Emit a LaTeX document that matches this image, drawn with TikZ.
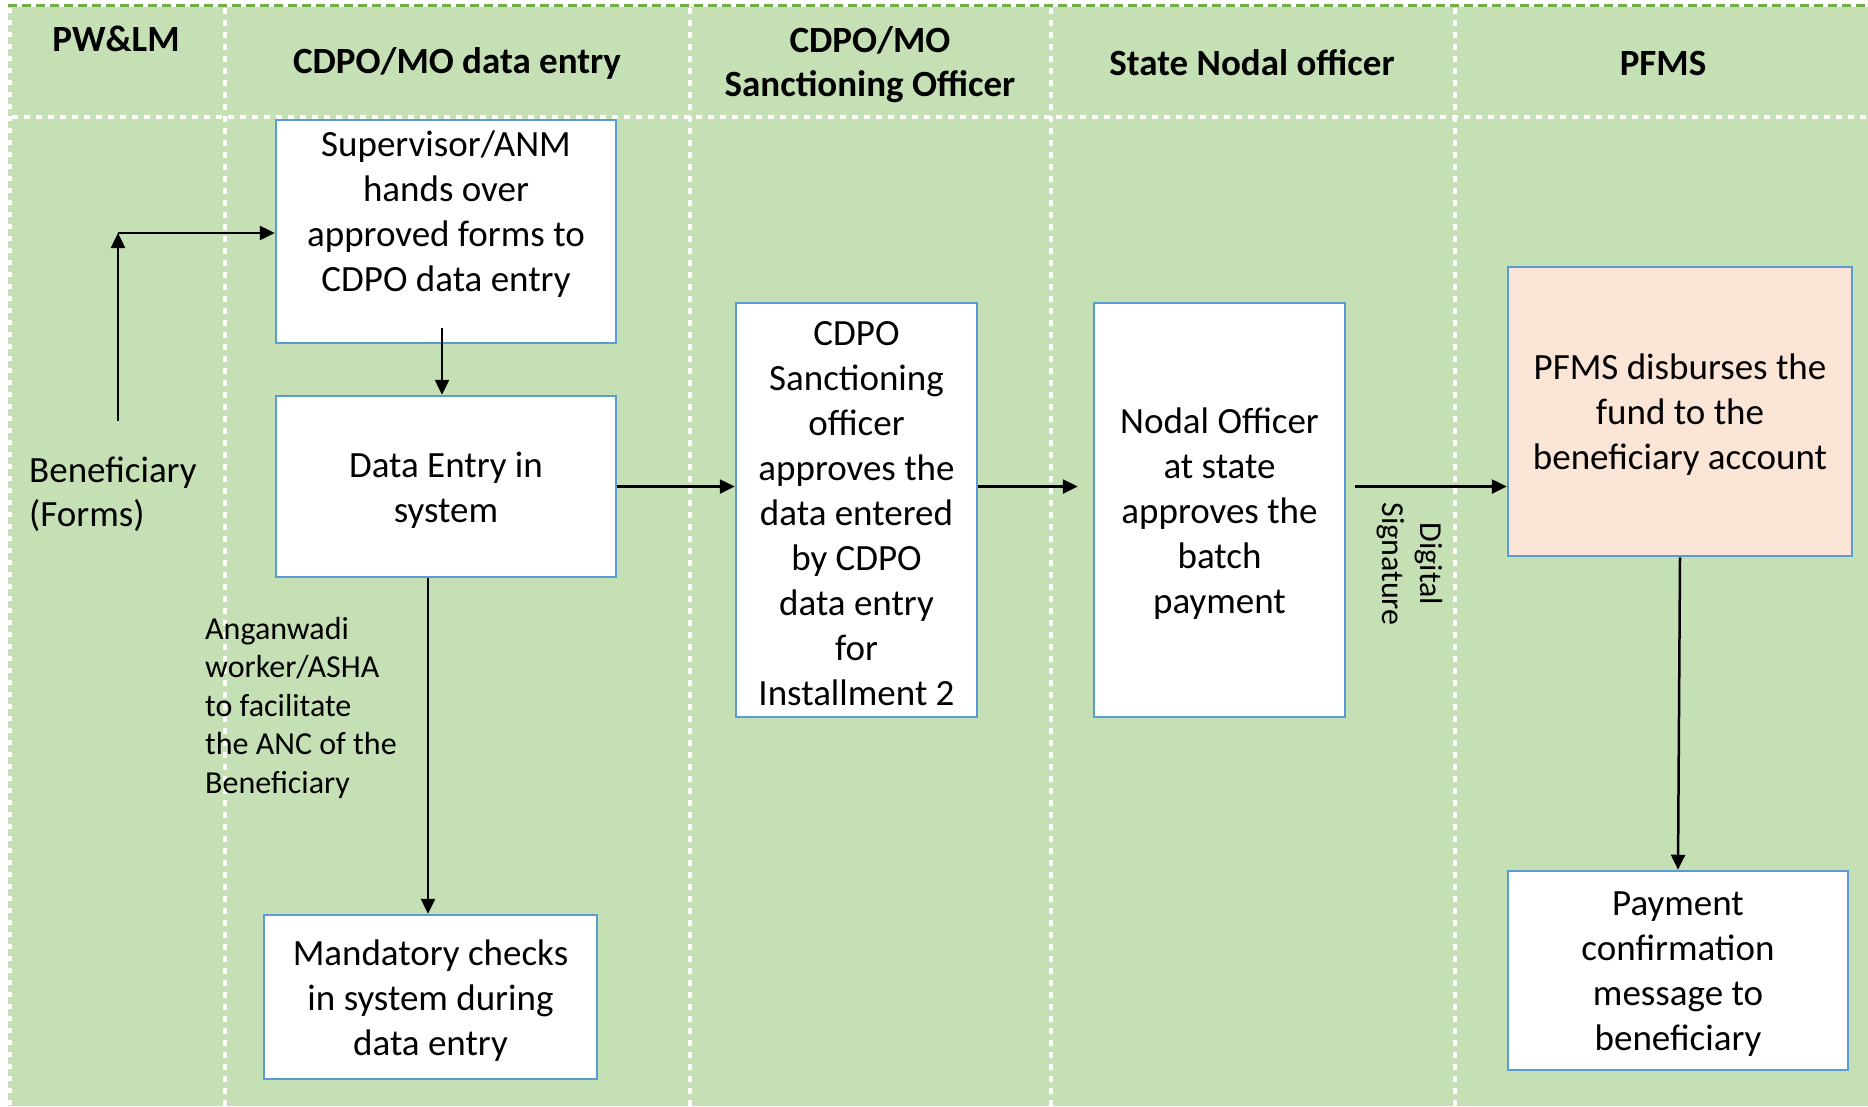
\documentclass[tikz,border=0pt]{standalone}
\usepackage{fontspec}
\setmainfont{Carlito}
\usetikzlibrary{arrows.meta}
\definecolor{lanegreen}{HTML}{C5E0B4}
\definecolor{edgegreen}{HTML}{70AD47}
\definecolor{boxblue}{HTML}{5B9BD5}
\definecolor{peach}{HTML}{FBE5D6}
\tikzset{
  boxnode/.style={draw=boxblue, line width=2.5pt, fill=white, inner sep=0pt},
  boxtext/.style={align=center, inner sep=0pt, font=\fontsize{37}{45}\selectfont},
  headtext/.style={align=center, font=\fontsize{37}{44}\selectfont\bfseries},
  bodytext/.style={align=left, font=\fontsize{37}{44}\selectfont},
  smalltext/.style={font=\fontsize{32}{38.5}\selectfont},
  divider/.style={white, line width=4.5pt, dash pattern=on 6pt off 6pt},
  arr/.style={line width=2.5pt, -{Triangle[length=15pt,width=14pt]}}
}
\begin{document}
\begin{tikzpicture}[x=1pt,y=-1pt]
\useasboundingbox (0,0) rectangle (1868,1106);
% background
\fill[white] (0,0) rectangle (1868,1106);
\fill[lanegreen] (8,5) rectangle (1868,1106);
\draw[white, line width=3pt] (8,5.5) -- (1868,5.5);
\draw[edgegreen, line width=3pt, dash pattern=on 9pt off 5pt] (8,5.5) -- (1868,5.5);
\draw[white, line width=3.5pt, dash pattern=on 5pt off 7pt] (10,8) -- (10,1106);
% lane dividers
\draw[divider] (225,8) -- (225,1106);
\draw[divider] (690,8) -- (690,1106);
\draw[divider] (1051,8) -- (1051,1106);
\draw[divider] (1455,8) -- (1455,1106);
\draw[divider] (12,117) -- (1868,117);
% headers
\node[headtext] (h1) at (116,39) {PW\&LM};
\node[headtext] (h2) at (457,63) {CDPO/MO data entry};
\node[headtext] (h3) at (870,64.5) {CDPO/MO\\Sanctioning Officer};
\node[headtext] (h4) at (1252,63) {State Nodal officer};
\node[headtext] (h5) at (1663,63) {PFMS};
% boxes (frames)
\node[boxnode, minimum width=340pt, minimum height=223pt] (box1) at (446,231.5) {};
\node[boxnode, minimum width=340pt, minimum height=181pt] (box2) at (446,486.5) {};
\node[boxnode, minimum width=333pt, minimum height=164pt] (box3) at (430.5,997) {};
\node[boxnode, minimum width=241pt, minimum height=414pt] (box4) at (856.5,510) {};
\node[boxnode, minimum width=251pt, minimum height=414pt] (box5) at (1219.5,510) {};
\node[boxnode, fill=peach, minimum width=344pt, minimum height=289pt] (box6) at (1680,411.5) {};
\node[boxnode, minimum width=340pt, minimum height=199pt] (box7) at (1678,970.5) {};
% box texts
\node[boxtext] (box1t) at ([yshift=17.5pt]box1.center)
  {Supervisor/ANM\\hands over\\approved forms to\\CDPO data entry};
\node[boxtext] (box2t) at ([yshift=-3.5pt]box2.center) {Data Entry in\\system};
\node[boxtext] (box3t) at ([yshift=-3.5pt]box3.center) {Mandatory checks\\in system during\\data entry};
\node[boxtext] (box4t) at ([yshift=-3.5pt]box4.center)
  {CDPO\\Sanctioning\\officer\\approves the\\data entered\\by CDPO\\data entry\\for\\Installment 2};
\node[boxtext] (box5t) at ([yshift=-3.5pt]box5.center) {Nodal Officer\\at state\\approves the\\batch\\payment};
\node[boxtext] (box6t) at ([yshift=-3.5pt]box6.center) {PFMS disburses the\\fund to the\\beneficiary account};
\node[boxtext] (box7t) at ([yshift=-3.5pt]box7.center) {Payment\\confirmation\\message to\\beneficiary};
% free texts
\node[bodytext, anchor=west, inner sep=0pt] (benef) at (29,494) {Beneficiary\\(Forms)};
\node[smalltext, align=left, anchor=west, inner sep=0pt] (anganwadi) at (205,707.5)
  {Anganwadi\\worker/ASHA\\to facilitate\\the ANC of the\\Beneficiary};
\node[smalltext, align=center, rotate=-90] (digsig) at (1410,564) {Digital\\Signature};
% connectors
\coordinate (bstart) at (118,421);
\coordinate (bcorner) at (118,233);
\draw[arr] (bstart) -- (bcorner);
\draw[arr] (bcorner) -- (bcorner -| box1.west);
\draw[arr] ([xshift=-4pt,yshift=16pt]box1.south) coordinate (d1) -- (d1 |- box2.north);
\draw[arr] ([xshift=-18pt]box2.south) coordinate (d2) -- (d2 |- box3.north);
\draw[arr] (box2.east) -- (box2.east -| box4.west);
\draw[arr, shorten >=15pt] (box2.east -| box4.east) -- (box2.east -| box5.west);
\draw[arr, shorten <=9pt] (box2.east -| box5.east) -- (box2.east -| box6.west);
\draw[arr] (box6.south) -- (box7.north);
\end{tikzpicture}
\end{document}
